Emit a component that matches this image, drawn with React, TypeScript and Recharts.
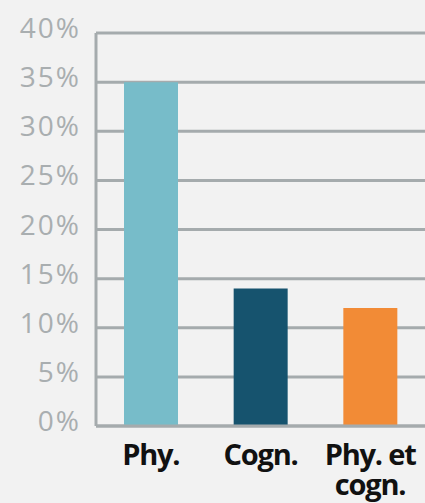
import { BarChart, Bar, XAxis, YAxis, CartesianGrid, Cell } from 'recharts'

const categories = ['Phy.', 'Cogn.', 'Phy. et cogn.']
const shares = [35, 14, 12]
const barColors = ['#77bcc9', '#16536e', '#f28b36']
const yTicks = [0, 5, 10, 15, 20, 25, 30, 35, 40]

const data = categories.map((name, i) => ({ name, value: shares[i] }))

const GRID = '#a5abad'

function splitLabel(label: string) {
  if (label.length <= 8) return [label]
  const cut = label.lastIndexOf(' ')
  return [label.slice(0, cut), label.slice(cut + 1)]
}

function XTick(props: any) {
  const { x, y, payload } = props
  const lines = splitLabel(payload.value)
  return (
    <text x={x} y={y + 39} textAnchor="middle" fill="#111" fontSize={29} fontWeight={700}
      fontFamily="'Open Sans', sans-serif" letterSpacing={-1.2}>
      {lines.map((l, i) => (
        <tspan key={i} x={x} dy={i === 0 ? 0 : 30}>{l}</tspan>
      ))}
    </text>
  )
}

function YTick(props: any) {
  const { x, y, payload } = props
  return (
    <text x={x} y={y + 5} textAnchor="end" fill="#a9aeb0" fontSize={28}
      fontFamily="'Open Sans', sans-serif" letterSpacing={2}>
      {payload.value}%
    </text>
  )
}

export default function App() {
  return (
    <div style={{ width: 425, height: 503, background: '#f2f2f2' }}>
      <style>{'body{margin:0}'}</style>
      <BarChart width={425} height={503} data={data}
        margin={{ top: 33, right: 0, bottom: 0, left: 0 }}>
        <CartesianGrid vertical={false} stroke={GRID} strokeWidth={3} />
        <XAxis dataKey="name" height={77} tick={<XTick />} tickLine={false} tickSize={0} tickMargin={0}
          axisLine={{ stroke: GRID, strokeWidth: 3 }} interval={0} />
        <YAxis domain={[0, 40]} ticks={yTicks} width={96} tick={<YTick />} tickLine={false}
          tickSize={0} tickMargin={15} axisLine={{ stroke: GRID, strokeWidth: 3 }} />
        <Bar dataKey="value" barSize={54} isAnimationActive={false}>
          {data.map((d, i) => <Cell key={d.name} fill={barColors[i]} />)}
        </Bar>
      </BarChart>
    </div>
  )
}
